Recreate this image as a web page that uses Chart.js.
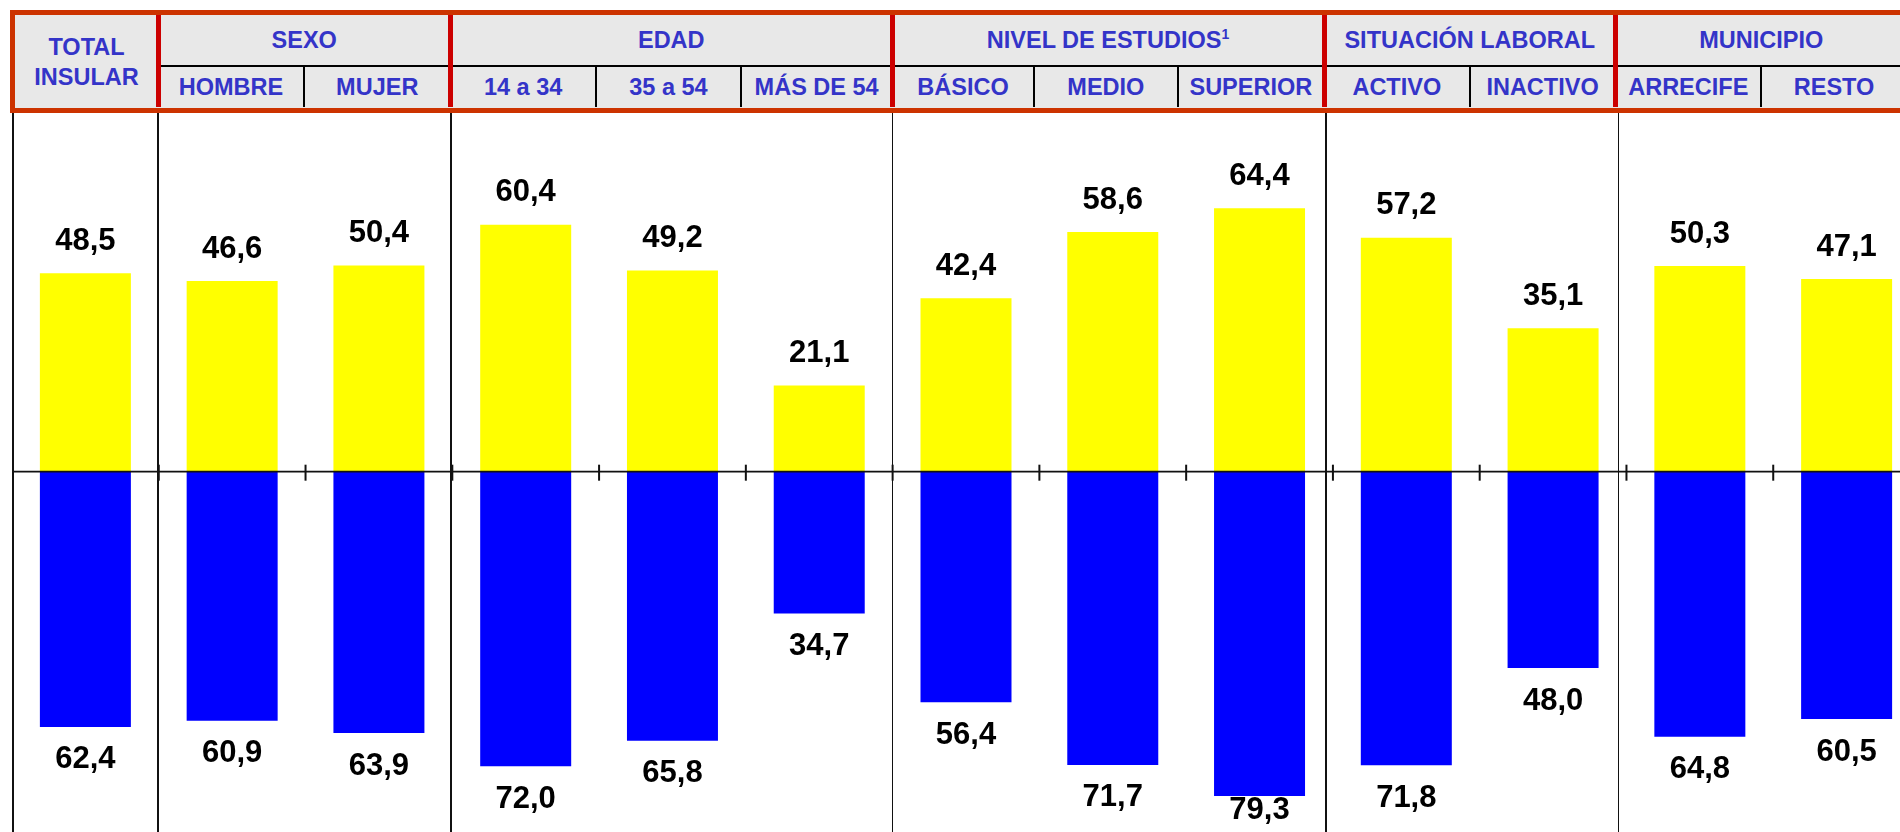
<!DOCTYPE html>
<html>
<head>
<meta charset="utf-8">
<script src="https://cdn.jsdelivr.net/npm/chart.js@4/dist/chart.umd.min.js"></script>
<style>
  html, body { margin: 0; padding: 0; background: #fff; overflow: hidden; width: 1900px; height: 832px; }
  body { position: relative; font-family: "Liberation Sans", Arial, sans-serif; }
  .abs { position: absolute; box-sizing: border-box; }
  .htxt { color: #3434c8; font-weight: bold; font-size: 23.5px; text-align: center; white-space: nowrap; }
  #cv { position: absolute; left: 0; top: 112px; }
</style>
</head>
<body>
<canvas id="cv" width="1920" height="720"></canvas>
<script>
// ---- data ----
const categories = ['TOTAL INSULAR', 'HOMBRE', 'MUJER', '14 a 34', '35 a 54', 'MÁS DE 54',
                    'BÁSICO', 'MEDIO', 'SUPERIOR', 'ACTIVO', 'INACTIVO', 'ARRECIFE', 'RESTO'];
const totalLabel = ['TOTAL', 'INSULAR'];
const groupNames = ['SEXO', 'EDAD', 'NIVEL DE ESTUDIOS¹', 'SITUACIÓN LABORAL', 'MUNICIPIO'];
const groupSpans = [2, 3, 3, 2, 2];
const yellowValues = [48.5, 46.6, 50.4, 60.4, 49.2, 21.1, 42.4, 58.6, 64.4, 57.2, 35.1, 50.3, 47.1];
const blueValues   = [62.4, 60.9, 63.9, 72.0, 65.8, 34.7, 56.4, 71.7, 79.3, 71.8, 48.0, 64.8, 60.5];

// ---- layout (header geometry) ----
const headerEdges = [13, 158, 304, 450.5, 595.7, 741.3, 892, 1034, 1177.7, 1324, 1469.6, 1615.5, 1761, 1907];
const plotLineX = [13, 158.3, 451, 892.7, 1326, 1618.5];

function el(cls, style, html) {
  const d = document.createElement('div');
  d.className = 'abs ' + (cls || '');
  Object.assign(d.style, style);
  if (html !== undefined) d.innerHTML = html;
  document.body.appendChild(d);
  return d;
}
const px = v => v + 'px';

// header box
el('', { left: '10px', top: '10px', width: '1910px', height: '103px', background: '#e8e8e8', border: '5px solid #cc3300' });
// TOTAL INSULAR
el('htxt', { left: '15px', top: '32px', width: px(headerEdges[1] - 15), lineHeight: '30px' }, totalLabel.join('<br>'));
// group headers
let idx = 1;
groupNames.forEach((g, gi) => {
  const x0 = headerEdges[idx], x1 = headerEdges[idx + groupSpans[gi]];
  const txt = g.replace('¹', '<sup style="font-size:14px;vertical-align:9px;line-height:0">1</sup>');
  el('htxt', { left: px(x0), top: '15px', width: px(x1 - x0), height: '50px', lineHeight: '50px' }, txt);
  for (let k = 0; k < groupSpans[gi]; k++) {
    const a = headerEdges[idx + k], b = headerEdges[idx + k + 1];
    el('htxt', { left: px(a), top: '67px', width: px(b - a), height: '40px', lineHeight: '41px' }, categories[idx + k]);
    if (k > 0) el('', { left: px(a - 1), top: '66px', width: '2px', height: '41px', background: '#000' });
  }
  idx += groupSpans[gi];
});
// horizontal divider in header
el('', { left: px(headerEdges[1]), top: '64.5px', width: px(1920 - headerEdges[1]), height: '2px', background: '#000' });
// red group separators
idx = 1;
groupSpans.forEach(s => {
  el('', { left: px(headerEdges[idx] - 2.5), top: '15px', width: '5px', height: '92px', background: '#cc0000' });
  idx += s;
});
// plot vertical separators
plotLineX.forEach(x => el('', { left: px(x - 1), top: '113px', width: '1.6px', height: '719px', background: '#111' }));

// ---- chart ----
const fmt = v => v.toFixed(1).replace('.', ',');

const overlay = {
  id: 'overlay',
  afterDatasetsDraw(chart) {
    const ctx = chart.ctx;
    const xs = chart.scales.x, ys = chart.scales.y;
    const y0 = ys.getPixelForValue(0);
    const area = chart.chartArea;
    ctx.save();
    // zero line
    ctx.strokeStyle = '#111';
    ctx.lineWidth = 1.8;
    ctx.beginPath();
    ctx.moveTo(area.left, y0);
    ctx.lineTo(area.right, y0);
    ctx.stroke();
    // ticks at category boundaries
    ctx.lineWidth = 2;
    for (let i = 1; i < categories.length; i++) {
      const xb = (xs.getPixelForValue(i - 1) + xs.getPixelForValue(i)) / 2;
      ctx.beginPath();
      ctx.moveTo(xb, y0 - 7);
      ctx.lineTo(xb, y0 + 9);
      ctx.stroke();
    }
    // value labels
    ctx.fillStyle = '#000';
    ctx.font = 'bold 31px "Liberation Sans", Arial, sans-serif';
    ctx.textAlign = 'center';
    ctx.textBaseline = 'middle';
    chart.getDatasetMeta(0).data.forEach((bar, i) => {
      ctx.fillText(fmt(yellowValues[i]), bar.x, bar.y - 32);
    });
    chart.getDatasetMeta(1).data.forEach((bar, i) => {
      const yl = Math.min(bar.y + 33, area.bottom - 22);
      ctx.fillText(fmt(blueValues[i]), bar.x, yl);
    });
    ctx.restore();
  }
};

new Chart(document.getElementById('cv'), {
  type: 'bar',
  data: {
    labels: categories,
    datasets: [
      { data: yellowValues, backgroundColor: '#ffff00', borderWidth: 0 },
      { data: blueValues.map(v => -v), backgroundColor: '#0000ff', borderWidth: 0 }
    ]
  },
  options: {
    responsive: false,
    animation: false,
    devicePixelRatio: 1,
    layout: { padding: { left: 12, right: 0, top: 0, bottom: 0 } },
    datasets: { bar: { categoryPercentage: 1, barPercentage: 0.62 } },
    plugins: { legend: { display: false }, tooltip: { enabled: false }, title: { display: false } },
    scales: {
      x: { type: 'category', display: false, stacked: true, offset: true, grid: { display: false } },
      y: { display: false, stacked: true, min: -88.1, max: 87.95, grid: { display: false } }
    }
  },
  plugins: [overlay]
});
</script>
</body>
</html>
